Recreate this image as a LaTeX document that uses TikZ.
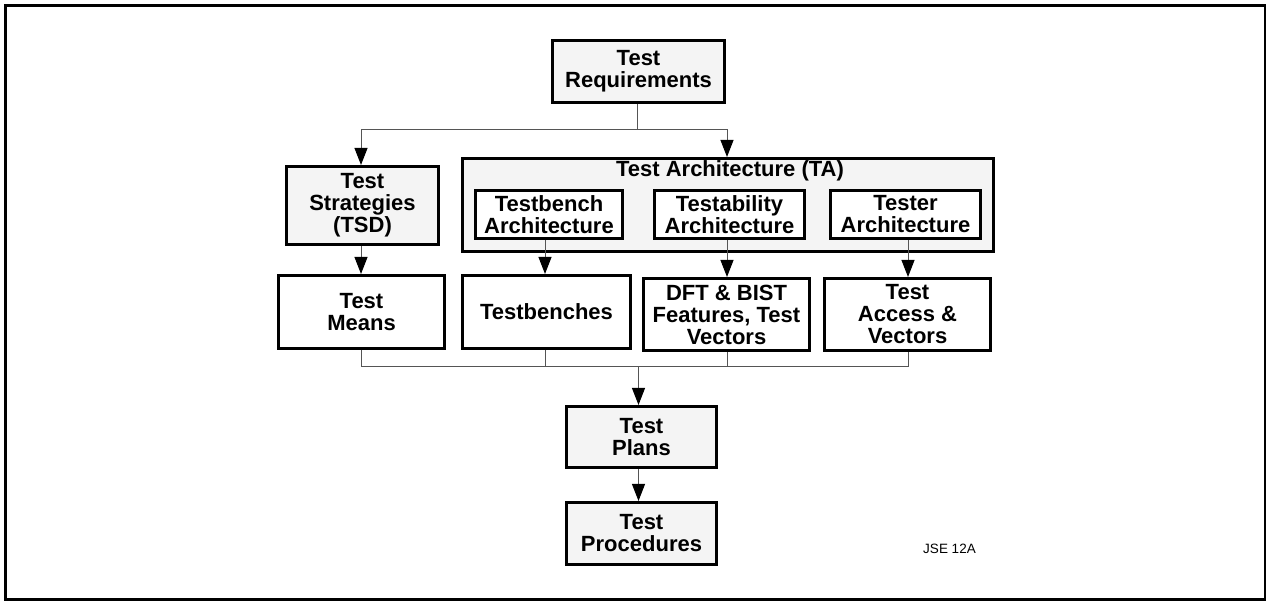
\documentclass[tikz,border=0pt]{standalone}
\usepackage{fontspec}
\setmainfont{Liberation Sans}
\usetikzlibrary{arrows.meta}
\definecolor{panel}{RGB}{244,244,244}
\definecolor{wire}{RGB}{85,85,85}
\begin{document}
\begin{tikzpicture}[x=1pt,y=-1pt,
  box/.style={draw=black,line width=2.6pt,inner sep=0pt,align=center,
    font=\fontsize{22}{22}\selectfont\bfseries},
  shaded/.style={box,fill=panel},
  plain/.style={box,fill=white},
  wireline/.style={draw=wire,line width=1pt},
  flow/.style={wireline,-{Triangle[width=13pt,length=17pt,color=black]}}]
\useasboundingbox (0,0) rectangle (1266,600);
% outer frame
\draw[line width=3pt] (5.5,5.5) rectangle (1265,599);

% top level
\node[shaded,minimum width=172.5,minimum height=62.5] (req) at (638.5,71.5) {Test\\Requirements};
\node[shaded,minimum width=152.5,minimum height=78.5] (strat) at (362.5,205.5) {Test\\Strategies\\(TSD)};

% test architecture group
\node[shaded,minimum width=531.5,minimum height=93.5] (arch) at (728,205) {};
\node[font=\fontsize{22}{22}\selectfont\bfseries,inner sep=0pt] (archlbl) at (730,171) {Test Architecture (TA)};
\node[plain,minimum width=147.5,minimum height=48.5] (tba) at (549,214.5) {Testbench\\Architecture};
\node[plain,minimum width=150.5,minimum height=48.5] (tya) at (729.5,214.5) {Testability\\Architecture};
\node[plain,minimum width=150.5,minimum height=48.5] (tea) at (905.5,214.5) {Tester\\Architecture};

% products
\node[plain,minimum width=166.5,minimum height=73.5] (means) at (361.5,312) {Test\\Means};
\node[plain,minimum width=168.5,minimum height=73.5] (benches) at (546.5,312) {Testbenches};
\node[plain,minimum width=166.5,minimum height=72.5] (dft) at (726.5,314.5) {DFT \& BIST\\Features, Test\\Vectors};
\node[plain,minimum width=166.5,minimum height=72.5] (access) at (907.5,314.5) {Test\\Access \&\\Vectors};

% plans and procedures
\node[shaded,minimum width=150.5,minimum height=61.5] (plans) at (641.5,437) {Test\\Plans};
\node[shaded,minimum width=150.5,minimum height=62.5] (procs) at (641.5,533.5) {Test\\Procedures};

\node[font=\fontsize{13.5}{14}\selectfont,inner sep=0pt] (tag) at (949.5,549) {JSE 12A};

% requirements fan-out
\coordinate (split) at (637,129);
\draw[wireline] (req.south -| split) -- (split);
\draw[flow] (split) -| (strat.north -| 361,0);
\draw[flow] (split) -| (arch.north -| 727,0);

% architecture to products
\draw[flow] (strat.south -| 361,0) -- (means.north -| 361,0);
\draw[flow] (tba.south -| 545,0) -- (benches.north -| 545,0);
\draw[flow] (tya.south -| 727,0) -- (dft.north -| 727,0);
\draw[flow] (tea.south -| 908,0) -- (access.north -| 908,0);

% products merge into plans
\coordinate (merge) at (638.5,366);
\draw[wireline] (means.south -| 361.5,0) |- (merge);
\draw[wireline] (access.south -| 908,0) |- (merge);
\draw[wireline] (benches.south -| 545,0) -- (merge -| 545,0);
\draw[wireline] (dft.south -| 727,0) -- (merge -| 727,0);
\draw[flow] (merge) -- (plans.north -| merge);
\draw[flow] (plans.south -| merge) -- (procs.north -| merge);
\end{tikzpicture}
\end{document}
